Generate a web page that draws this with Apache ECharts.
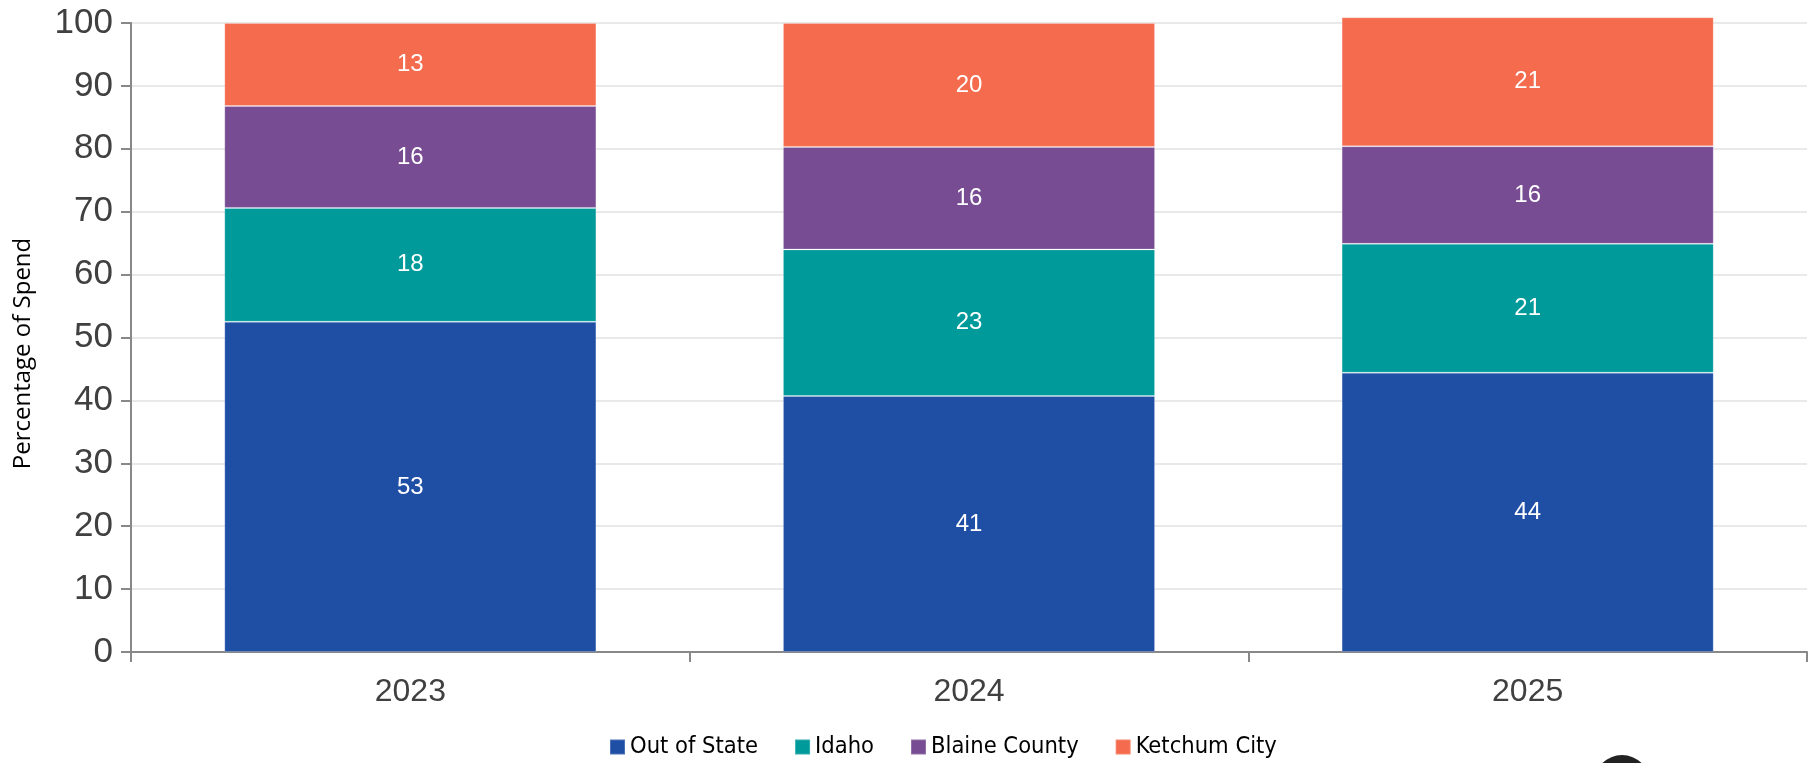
<!DOCTYPE html>
<html>
<head>
<meta charset="utf-8">
<script src="https://cdn.jsdelivr.net/npm/echarts@6/dist/echarts.min.js"></script>
<style>
  html, body { margin: 0; padding: 0; background: #fff; }
  #chart { width: 1809px; height: 763px; }
</style>
</head>
<body>
<div id="chart"></div>
<script>
const years = ["2023", "2024", "2025"];
const outOfState = [52.5, 40.7, 44.4];
const idaho = [18.1, 23.3, 20.5];
const blaineCounty = [16.2, 16.3, 15.5];
const ketchumCity = [13.2, 19.7, 20.5];

const yTicks = { min: 0, max: 100, interval: 10 };

const colors = {
  outOfState: "#1f4fa5",
  idaho: "#009a9b",
  blaineCounty: "#774c93",
  ketchumCity: "#f56b4d",
};

const chart = echarts.init(document.getElementById("chart"));

// one stacked segment per region
function segment(name, data, color) {
  return {
    name: name,
    type: "bar",
    stack: "spend",
    barWidth: "66.6%",
    clip: false,
    data: data,
    itemStyle: { color: color, borderColor: "rgba(255,255,255,0.2)", borderWidth: 1 },
    label: {
      show: true,
      position: "inside",
      color: "#fff",
      fontFamily: "Liberation Sans",
      fontSize: 24,
      formatter: (p) => Math.round(p.value),
    },
  };
}

chart.setOption({
  animation: false,
  textStyle: { fontFamily: "Liberation Sans" },
  grid: { left: 131, right: 2, top: 23, bottom: 111, containLabel: false },
  legend: {
    bottom: -1,
    left: 604,
    icon: "rect",
    itemWidth: 15,
    itemHeight: 15,
    itemGap: 36,
    textStyle: {
      fontFamily: "'DejaVu Sans Condensed', 'Liberation Sans', sans-serif",
      fontSize: 23.5,
      color: "#000",
    },
    data: ["Out of State", "Idaho", "Blaine County", "Ketchum City"],
  },
  xAxis: {
    type: "category",
    data: years,
    boundaryGap: true,
    axisLine: { lineStyle: { color: "#888", width: 2 } },
    axisTick: { show: true, length: 10, lineStyle: { color: "#888", width: 2 } },
    axisLabel: { color: "#404040", fontSize: 32, margin: 24 },
  },
  yAxis: {
    type: "value",
    min: yTicks.min,
    max: yTicks.max,
    interval: yTicks.interval,
    name: "Percentage of Spend",
    nameLocation: "middle",
    nameRotate: 90,
    nameGap: 96,
    nameTextStyle: { fontFamily: "Open Sans", fontSize: 24, color: "#000", padding: [0, 32, 0, 0] },
    axisLine: { show: true, lineStyle: { color: "#888", width: 2 } },
    axisTick: { show: true, length: 10, lineStyle: { color: "#888", width: 2 } },
    axisLabel: { color: "#404040", fontSize: 35, margin: 18 },
    splitLine: { lineStyle: { color: "#e2e2e2", width: 1.5 } },
  },
  graphic: [
    { type: "circle", shape: { cx: 1622, cy: 783, r: 28 }, style: { fill: "#222" } },
  ],
  series: [
    segment("Out of State", outOfState, colors.outOfState),
    segment("Idaho", idaho, colors.idaho),
    segment("Blaine County", blaineCounty, colors.blaineCounty),
    segment("Ketchum City", ketchumCity, colors.ketchumCity),
  ],
});
</script>
</body>
</html>
